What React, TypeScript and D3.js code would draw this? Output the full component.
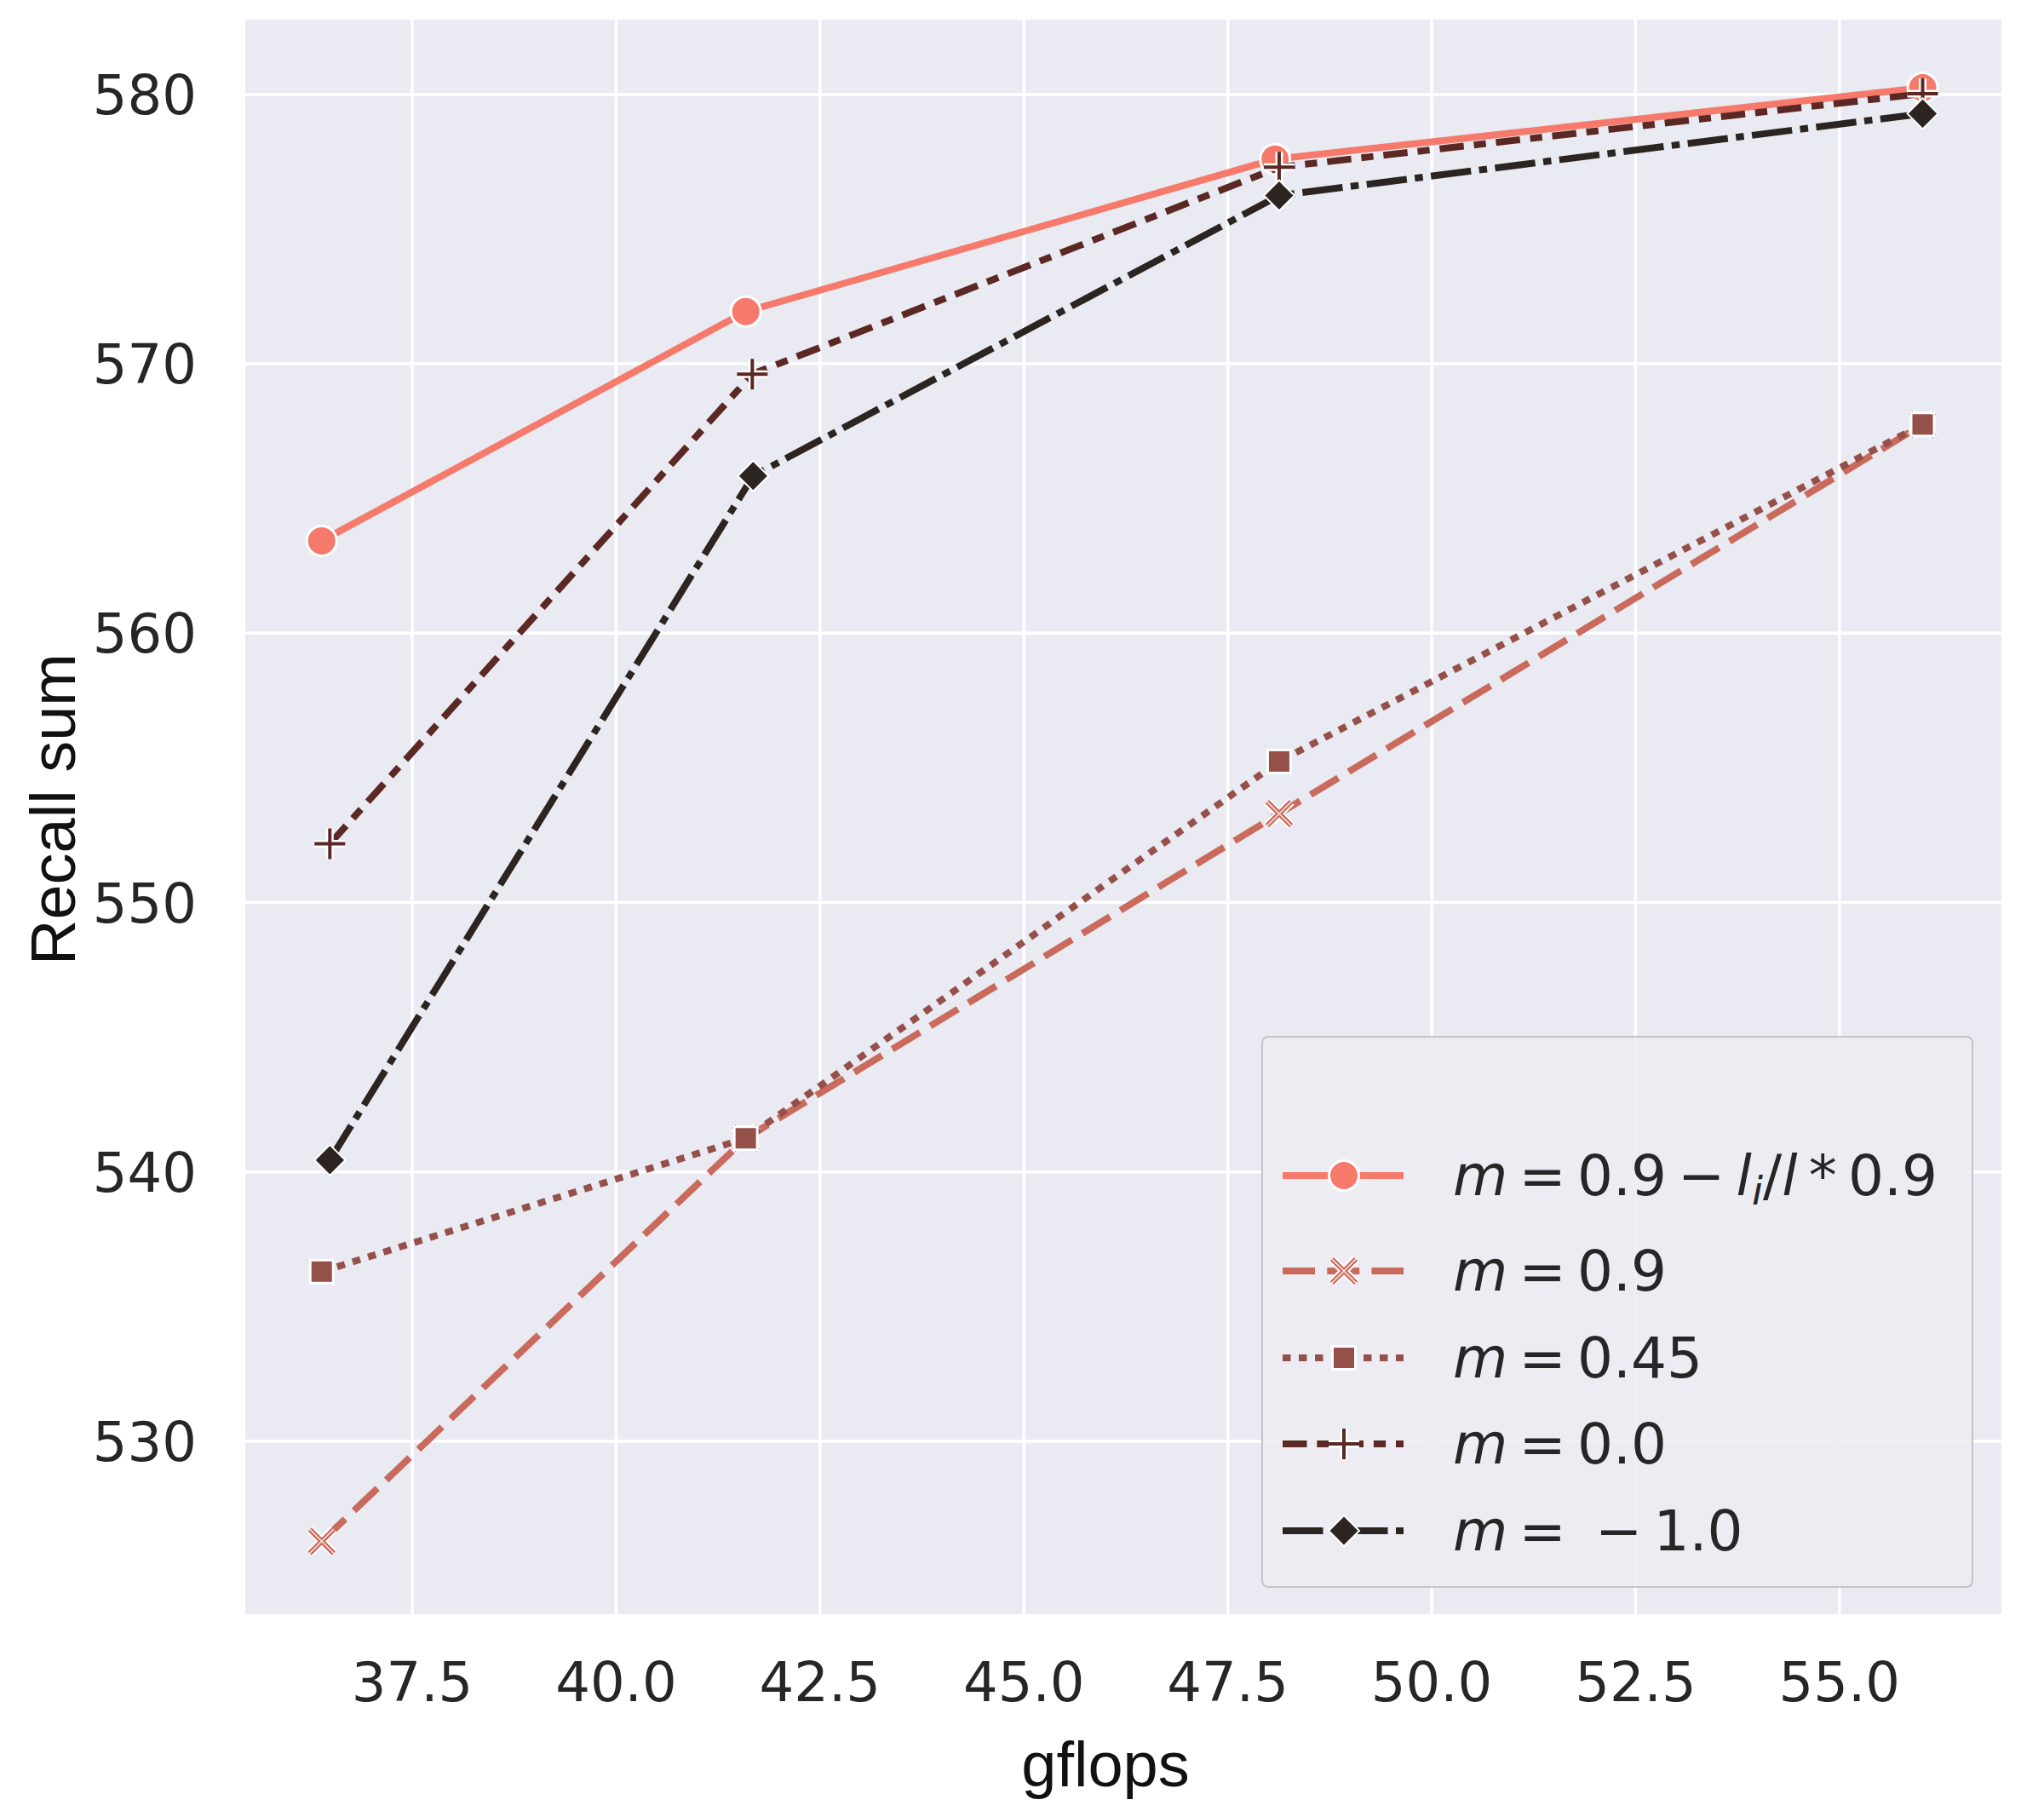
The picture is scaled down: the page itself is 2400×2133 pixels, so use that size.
import React from "react";
import * as d3 from "d3";

const width = 2400;
const height = 2133;
const plot = { left: 288, right: 2350, top: 23, bottom: 1895 };

// gflops / recall sum for each margin setting
const gflopsAdaptive = [36.39, 41.59, 48.08, 56.02];
const recallAdaptive = [563.43, 571.94, 577.6, 580.25];

const gflopsM090 = [36.39, 41.59, 48.13, 56.02];
const recallM090 = [526.29, 541.25, 553.3, 567.75];

const gflopsM045 = [36.39, 41.59, 48.13, 56.02];
const recallM045 = [536.3, 541.25, 555.24, 567.75];

const gflopsM000 = [36.49, 41.67, 48.13, 56.02];
const recallM000 = [552.18, 569.62, 577.3, 580.03];

const gflopsMneg1 = [36.49, 41.68, 48.13, 56.02];
const recallMneg1 = [540.44, 565.84, 576.25, 579.29];

const xTicks = [37.5, 40, 42.5, 45, 47.5, 50, 52.5, 55];
const yTicks = [530, 540, 550, 560, 570, 580];

const u = 9.5; // dash unit
const series = [
  { key: "adaptive", xs: gflopsAdaptive, ys: recallAdaptive, color: "#f67a6b", dash: "none", marker: "circle" },
  { key: "m090", xs: gflopsM090, ys: recallM090, color: "#c96a5c", dash: `${4 * u},${1.5 * u}`, marker: "x" },
  { key: "m045", xs: gflopsM045, ys: recallM045, color: "#95504a", dash: `${u},${u}`, marker: "square" },
  { key: "m000", xs: gflopsM000, ys: recallM000, color: "#5b2824", dash: `${3 * u},${1.25 * u},${1.5 * u},${1.25 * u}`, marker: "plus" },
  { key: "mneg1", xs: gflopsMneg1, ys: recallMneg1, color: "#2c2421", dash: `${5 * u},${u},${u},${u}`, marker: "diamond" },
];

const x = d3.scaleLinear().domain([35.453, 56.986]).range([plot.left, plot.right]);
const y = d3.scaleLinear().domain([523.58, 582.78]).range([plot.bottom, plot.top]);

const line = d3
  .line<[number, number]>()
  .x((d) => x(d[0]))
  .y((d) => y(d[1]));

function Marker({ type, cx, cy, color }: { type: string; cx: number; cy: number; color: string }) {
  if (type === "circle") {
    return <circle cx={cx} cy={cy} r={17.5} fill={color} stroke="#fff" strokeWidth={3} />;
  }
  if (type === "square") {
    return <rect x={cx - 13.5} y={cy - 13.5} width={27} height={27} fill={color} stroke="#fff" strokeWidth={3} />;
  }
  if (type === "diamond") {
    const r = 18;
    return (
      <path
        d={`M${cx},${cy - r}L${cx + r},${cy}L${cx},${cy + r}L${cx - r},${cy}Z`}
        fill={color}
        stroke="#fff"
        strokeWidth={2}
      />
    );
  }
  if (type === "plus") {
    const r = 18;
    const d = `M${cx - r},${cy}H${cx + r}M${cx},${cy - r}V${cy + r}`;
    return (
      <g>
        <path d={d} stroke="#fff" strokeWidth={9} />
        <path d={d} stroke={color} strokeWidth={4} />
      </g>
    );
  }
  // x marker: coloured cross with a white core
  const r = 14;
  const d = `M${cx - r},${cy - r}L${cx + r},${cy + r}M${cx - r},${cy + r}L${cx + r},${cy - r}`;
  return (
    <g>
      <path d={d} stroke="#fff" strokeWidth={10} />
      <path d={d} stroke={color} strokeWidth={6} />
      <path d={d} stroke="#fde8e4" strokeWidth={1.5} />
    </g>
  );
}

const legendRows = [1380, 1492, 1594, 1695, 1797];

function LegendLabel({ i, tx, ty }: { i: number; tx: number; ty: number }) {
  const it = { fontStyle: "italic" as const };
  const t = "\u2009";
  if (i === 0) {
    return (
      <text x={tx} y={ty}>
        <tspan style={it}>m</tspan>
        <tspan>{`${t}=${t}0.9${t}−${t}`}</tspan>
        <tspan style={it}>l</tspan>
        <tspan style={it} fontSize={47} dy={11}>i</tspan>
        <tspan dy={-11}>/</tspan>
        <tspan style={it}>l</tspan>
        <tspan>{`${t}*${t}0.9`}</tspan>
      </text>
    );
  }
  const vals = ["", `${t}=${t}0.9`, `${t}=${t}0.45`, `${t}=${t} −${t}1.0`];
  const label = i === 4 ? vals[3] : i === 3 ? `${t}=${t}0.0` : vals[i];
  return (
    <text x={tx} y={ty}>
      <tspan style={it}>m</tspan>
      <tspan>{label}</tspan>
    </text>
  );
}

export default function App() {
  return (
    <svg
      width={width}
      height={height}
      viewBox={`0 0 ${width} ${height}`}
      style={{ position: "absolute", left: 0, top: 0, background: "#fff" }}
    >
      <rect
        x={plot.left}
        y={plot.top}
        width={plot.right - plot.left}
        height={plot.bottom - plot.top}
        fill="#eaeaf2"
      />
      <g stroke="#fff" strokeWidth={3.5}>
        {xTicks.map((t) => (
          <line key={`gx${t}`} x1={x(t)} x2={x(t)} y1={plot.top} y2={plot.bottom} />
        ))}
        {yTicks.map((t) => (
          <line key={`gy${t}`} x1={plot.left} x2={plot.right} y1={y(t)} y2={y(t)} />
        ))}
      </g>

      <g fontFamily="DejaVu Sans" fontSize={64} fill="#262626">
        {xTicks.map((t) => (
          <text key={`tx${t}`} x={x(t)} y={1997} textAnchor="middle">
            {t.toFixed(1)}
          </text>
        ))}
        {yTicks.map((t) => (
          <text key={`ty${t}`} x={231} y={y(t)} dy="0.36em" textAnchor="end">
            {t}
          </text>
        ))}
      </g>

      <g fontFamily="Liberation Sans" fontSize={74} fill="#111">
        <text x={1298} y={2097} textAnchor="middle">
          gflops
        </text>
        <text transform="translate(88,950) rotate(-90)" textAnchor="middle">
          Recall sum
        </text>
      </g>

      {series.map((s) => {
        const pts = s.xs.map((v, i) => [v, s.ys[i]] as [number, number]);
        return (
          <g key={s.key}>
            <path
              d={line(pts) || ""}
              fill="none"
              stroke={s.color}
              strokeWidth={8}
              strokeDasharray={s.dash}
            />
            {pts.map((p, i) => (
              <Marker key={i} type={s.marker} cx={x(p[0])} cy={y(p[1])} color={s.color} />
            ))}
          </g>
        );
      })}

      <rect x={1482} y={1217} width={834} height={646} rx={7} fill="#ececf2" fillOpacity={0.9} stroke="#c4c4c4" strokeWidth={2} />
      <g fontFamily="DejaVu Sans" fontSize={66} fill="#262626">
        {series.map((s, i) => {
          const cy = legendRows[i];
          return (
            <g key={`lg${s.key}`}>
              <line
                x1={1506}
                x2={1648}
                y1={cy}
                y2={cy}
                stroke={s.color}
                strokeWidth={8}
                strokeDasharray={s.dash}
              />
              <Marker type={s.marker} cx={1578} cy={cy} color={s.color} />
              <LegendLabel i={i} tx={1706} ty={cy + 23} />
            </g>
          );
        })}
      </g>
    </svg>
  );
}
